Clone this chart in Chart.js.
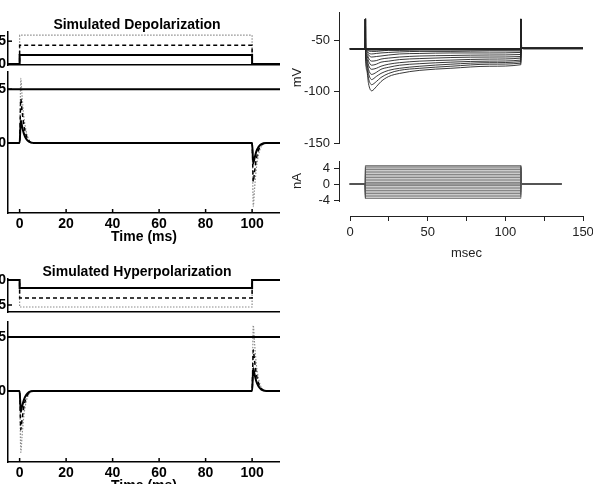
<!DOCTYPE html>
<html>
<head>
<meta charset="utf-8">
<script src="https://cdn.jsdelivr.net/npm/chart.js@4.4.0/dist/chart.umd.min.js"></script>
<style>
html, body { margin: 0; padding: 0; background: #fff; width: 597px; height: 484px; overflow: hidden; position: relative; }
.box { position: absolute; }
</style>
</head>
<body>
<div class="box" style="left:-6px;top:18px;width:286px;height:58px"><canvas id="depCmd"></canvas></div>
<div class="box" style="left:-6px;top:66px;width:286px;height:180px"><canvas id="depCur"></canvas></div>
<div class="box" style="left:-6px;top:265px;width:286px;height:58px"><canvas id="hypCmd"></canvas></div>
<div class="box" style="left:-6px;top:316px;width:286px;height:179px"><canvas id="hypCur"></canvas></div>
<div class="box" style="left:290px;top:6px;width:293px;height:145px"><canvas id="mv"></canvas></div>
<div class="box" style="left:290px;top:153px;width:293px;height:55px"><canvas id="na"></canvas></div>
<div class="box" style="left:330px;top:212px;width:263px;height:55px"><canvas id="msec"></canvas></div>
<script>
// left: simulated command steps (time in ms)
var stepTime = [-5, 0, 0, 100, 100, 112];
var depCmdSolid = [0, 0, 2, 2, 0, 0];
var depCmdDashed = [0, 0, 4.1, 4.1, 0, 0];
var depCmdDotted = [0, 0, 6.3, 6.3, 0, 0];
var hypCmdSolid = [0, 0, -1.6, -1.6, 0, 0];
var hypCmdDashed = [0, 0, -3.6, -3.6, 0, 0];
var hypCmdDotted = [0, 0, -5.4, -5.4, 0, 0];

// left: simulated currents
var curTime = [-5, 0, 0.5, 1, 1.8, 2.8, 4, 6, 100, 100.5, 101, 101.8, 102.8, 104, 106, 112];
var depCurSolid = [0, 0, 2.1, 1.6, 0.9, 0.4, 0.12, 0, 0, -1.9, -1.45, -0.8, -0.35, -0.1, 0, 0];
var depCurDashed = [0, 0, 4.1, 3.1, 1.7, 0.75, 0.22, 0, 0, -3.6, -2.75, -1.5, -0.65, -0.2, 0, 0];
var depCurDotted = [0, 0, 6, 4.5, 2.5, 1.1, 0.3, 0, 0, -5.9, -4.4, -2.4, -1.05, -0.3, 0, 0];
var hypCurSolid = [0, 0, -1.95, -1.5, -0.85, -0.38, -0.11, 0, 0, 2.1, 1.6, 0.9, 0.4, 0.12, 0, 0];
var hypCurDashed = [0, 0, -3.6, -2.75, -1.5, -0.65, -0.2, 0, 0, 3.8, 2.9, 1.6, 0.7, 0.2, 0, 0];
var hypCurDotted = [0, 0, -5.7, -4.3, -2.35, -1, -0.3, 0, 0, 6.1, 4.6, 2.5, 1.1, 0.3, 0, 0];
var refTime = [-5, 112];
var refLevel = [5, 5];
var timeTicks = [0, 20, 40, 60, 80, 100];

// right: recorded voltage traces (mV)
var mvTime = [0, 9.9, 10, 10.1, 11, 12, 14, 17, 20, 25, 32, 45, 65, 90, 110, 110.1, 110.3, 112, 150];
var mvHead = [-58, -58, -29];
var mvTail = [-29, -57, -57.5, -57.5];
var mvTraces = [
  [-58, -58, -58, -58, -58, -58, -58, -58, -58, -58, -58, -58],
  [-58.5, -58.7, -58.8, -58.8, -58.8, -58.8, -58.7, -58.7, -58.7, -58.6, -58.6, -58.6],
  [-58, -59, -60, -60.5, -60.5, -60, -59.5, -59.5, -59, -59, -59, -58.8],
  [-58.5, -60, -62, -63, -62.5, -62, -61.5, -61, -60.5, -60.5, -60, -60],
  [-58.5, -61, -64, -66, -65.5, -65, -64, -63, -62.5, -62, -62, -61.5],
  [-59, -63, -67, -70, -69.5, -68, -67, -66, -65, -64.5, -64, -63.5],
  [-59, -65, -70, -74, -73, -71, -70, -68.5, -67.5, -66.5, -66, -65.5],
  [-60, -68, -74, -78, -77, -75, -73, -71.5, -70, -69, -68, -67],
  [-60, -70, -78, -83, -81, -78, -76, -74, -72.5, -71, -70, -69],
  [-61, -73, -82, -88, -85, -82, -79, -77, -75, -73, -71.5, -70.5],
  [-61, -77, -87, -93, -90, -86, -82, -79, -77, -75, -73, -72],
  [-62, -80, -92, -99, -95, -90, -85, -82, -79, -77, -75, -73.5]
];
var mvTicks = [-150, -100, -50];

// right: injected current steps (nA)
var naTime = [0, 10, 10, 110, 110, 136];
var naLevels = [-3.6, -3.2, -2.8, -2.4, -2, -1.6, -1.2, -0.8, -0.4, 0.4, 0.8, 1.2, 1.6, 2, 2.4, 2.8, 3.2, 3.6, 4, 4.3, 4.6];
var naTicks = [-4, 0, 4];
var msecTicks = [0, 25, 50, 75, 100, 125, 150];

var fam = "'Liberation Sans', Arial, Helvetica, sans-serif";
var boldFont = { family: fam, size: 14, weight: 'bold' };
var plainFont = { family: fam, size: 13 };

function pts(xs, ys) {
    return xs.map(function (x, i) { return { x: x, y: ys[i] }; });
}

function fixTicks(values) {
    return function (scale) {
        scale.ticks = values.map(function (v) { return { value: v }; });
    };
}

// fixed axis size, and no extra room reserved for edge labels
function fixSize(prop, size) {
    return function (s) {
        if (prop) s[prop] = size;
        s.paddingTop = 0; s.paddingBottom = 0; s.paddingLeft = 0; s.paddingRight = 0;
    };
}

// MATLAB-style ticks pointing into the plot
var inwardTicks = {
    id: 'inwardTicks',
    afterDraw: function (chart) {
        if (!chart.options.plugins.inwardTicks) return;
        var ctx = chart.ctx, area = chart.chartArea;
        ctx.save();
        ctx.strokeStyle = '#000';
        ctx.lineWidth = 1.5;
        ['x', 'y'].forEach(function (id) {
            var s = chart.scales[id];
            if (!s.options.ticks.display) return;
            s.ticks.forEach(function (t) {
                var p = s.getPixelForValue(t.value);
                ctx.beginPath();
                if (id === 'x') { ctx.moveTo(p, area.bottom); ctx.lineTo(p, area.bottom - 4); }
                else { ctx.moveTo(area.left, p); ctx.lineTo(area.left + 4, p); }
                ctx.stroke();
            });
        });
        ctx.restore();
    }
};

function styled(data, kind) {
    var ds = { data: data, pointRadius: 0, borderColor: '#000', borderWidth: 2, fill: false };
    if (kind === 'dashed') { ds.borderWidth = 1.5; ds.borderDash = [4, 3]; }
    if (kind === 'dotted') { ds.borderColor = '#8c8c8c'; ds.borderWidth = 1.2; ds.borderDash = [1.5, 1.5]; }
    return ds;
}

function smooth(ds) {
    ds.cubicInterpolationMode = 'monotone';
    return ds;
}

function leftChart(id, datasets, yMin, yMax, yTicks, opts) {
    new Chart(document.getElementById(id), {
        type: 'line',
        data: { datasets: datasets },
        options: {
            animation: false,
            responsive: true,
            maintainAspectRatio: false,
            layout: { padding: { top: opts.padTop || 0, bottom: opts.padBottom || 0, left: 0, right: 0 } },
            plugins: {
                legend: { display: false },
                tooltip: { enabled: false },
                inwardTicks: true,
                title: {
                    display: !!opts.title,
                    text: opts.title || '',
                    color: '#000',
                    font: { family: fam, size: 14, weight: 'bold', lineHeight: 1 },
                    padding: 0
                }
            },
            scales: {
                x: {
                    type: 'linear', min: -5, max: 112,
                    afterBuildTicks: fixTicks(timeTicks),
                    afterFit: fixSize('height', opts.xHeight),
                    border: { color: '#000', width: 1.5 },
                    grid: { drawOnChartArea: false, drawTicks: false },
                    ticks: { display: !!opts.showX, padding: 3, color: '#000', font: boldFont, maxRotation: 0, autoSkip: false },
                    title: { display: !!opts.showX, text: 'Time (ms)', color: '#000', font: boldFont, padding: 0 }
                },
                y: {
                    min: yMin, max: yMax,
                    afterBuildTicks: fixTicks(yTicks),
                    afterFit: fixSize('width', 14),
                    border: { color: '#000', width: 1.5 },
                    grid: { drawOnChartArea: false, drawTicks: false },
                    ticks: { padding: 2, color: '#000', font: boldFont, autoSkip: false }
                }
            }
        },
        plugins: [inwardTicks]
    });
}

leftChart('depCmd', [
    styled(pts(stepTime, depCmdSolid), 'solid'),
    styled(pts(stepTime, depCmdDashed), 'dashed'),
    styled(pts(stepTime, depCmdDotted), 'dotted')
], -0.2, 7, [0, 5], { title: 'Simulated Depolarization', xHeight: 0, padBottom: 11 });

leftChart('depCur', [
    styled(pts(refTime, refLevel), 'solid'),
    smooth(styled(pts(curTime, depCurSolid), 'solid')),
    smooth(styled(pts(curTime, depCurDashed), 'dashed')),
    smooth(styled(pts(curTime, depCurDotted), 'dotted'))
], -6.5, 6.6, [0, 5], { padTop: 6, xHeight: 33, showX: true });

leftChart('hypCmd', [
    styled(pts(stepTime, hypCmdSolid), 'solid'),
    styled(pts(stepTime, hypCmdDashed), 'dashed'),
    styled(pts(stepTime, hypCmdDotted), 'dotted')
], -6.4, 0.2, [-5, 0], { title: 'Simulated Hyperpolarization', xHeight: 0, padBottom: 11 });

leftChart('hypCur', [
    styled(pts(refTime, refLevel), 'solid'),
    smooth(styled(pts(curTime, hypCurSolid), 'solid')),
    smooth(styled(pts(curTime, hypCurDashed), 'dashed')),
    smooth(styled(pts(curTime, hypCurDotted), 'dotted'))
], -6.6, 6.4, [0, 5], { padTop: 6, xHeight: 33, showX: true });

function rightY(min, max, ticks, label) {
    return {
        min: min, max: max,
        afterBuildTicks: fixTicks(ticks),
        afterFit: fixSize('width', 49),
        border: { color: '#222', width: 1 },
        grid: { drawOnChartArea: false, tickLength: 5, color: '#222' },
        ticks: { padding: 4, color: '#222', font: plainFont, autoSkip: false },
        title: { display: true, text: label, color: '#222', font: plainFont, padding: 0 }
    };
}

var plainPlugins = { legend: { display: false }, tooltip: { enabled: false } };

new Chart(document.getElementById('mv'), {
    type: 'line',
    data: {
        datasets: mvTraces.map(function (body, i) {
            return {
                data: pts(mvTime, mvHead.concat(body, mvTail)),
                borderColor: '#222', borderWidth: i < 2 ? 1.6 : 0.9,
                pointRadius: 0, cubicInterpolationMode: 'monotone'
            };
        })
    },
    options: {
        animation: false, responsive: true, maintainAspectRatio: false,
        layout: { padding: { top: 6, bottom: 8, left: 0, right: 0 } },
        plugins: plainPlugins,
        scales: {
            x: { type: 'linear', display: false, min: -7, max: 150 },
            y: rightY(-150, -22, mvTicks, 'mV')
        }
    }
});

new Chart(document.getElementById('na'), {
    type: 'line',
    data: {
        datasets: naLevels.map(function (level) {
            return {
                data: pts(naTime, [0, 0, level, level, 0, 0]),
                borderColor: '#555', borderWidth: 0.8, pointRadius: 0, tension: 0
            };
        }).concat([{
            data: pts(naTime, [0, 0, 0, 0, 0, 0]),
            borderColor: '#333', borderWidth: 1, pointRadius: 0
        }])
    },
    options: {
        animation: false, responsive: true, maintainAspectRatio: false,
        layout: { padding: { top: 8, bottom: 7, left: 0, right: 0 } },
        plugins: plainPlugins,
        scales: {
            x: { type: 'linear', display: false, min: -7, max: 150 },
            y: rightY(-4.25, 5.75, naTicks, 'nA')
        }
    }
});

new Chart(document.getElementById('msec'), {
    type: 'line',
    data: { datasets: [] },
    options: {
        animation: false, responsive: true, maintainAspectRatio: false,
        layout: { padding: { top: 0, bottom: 0, left: 20, right: 10 } },
        plugins: plainPlugins,
        scales: {
            x: {
                type: 'linear', min: 0, max: 150,
                afterBuildTicks: fixTicks(msecTicks),
                afterFit: fixSize('height', 51),
                border: { color: '#222', width: 1 },
                grid: { drawOnChartArea: false, tickLength: 5, color: '#222' },
                ticks: {
                    padding: 4, color: '#222', font: plainFont, maxRotation: 0, autoSkip: false,
                    callback: function (v) { return v % 50 === 0 ? v : ''; }
                },
                title: { display: true, text: 'msec', color: '#222', font: plainFont, padding: { top: 0, bottom: 6 } }
            },
            y: { display: false, min: 0, max: 1 }
        }
    }
});
</script>
</body>
</html>
